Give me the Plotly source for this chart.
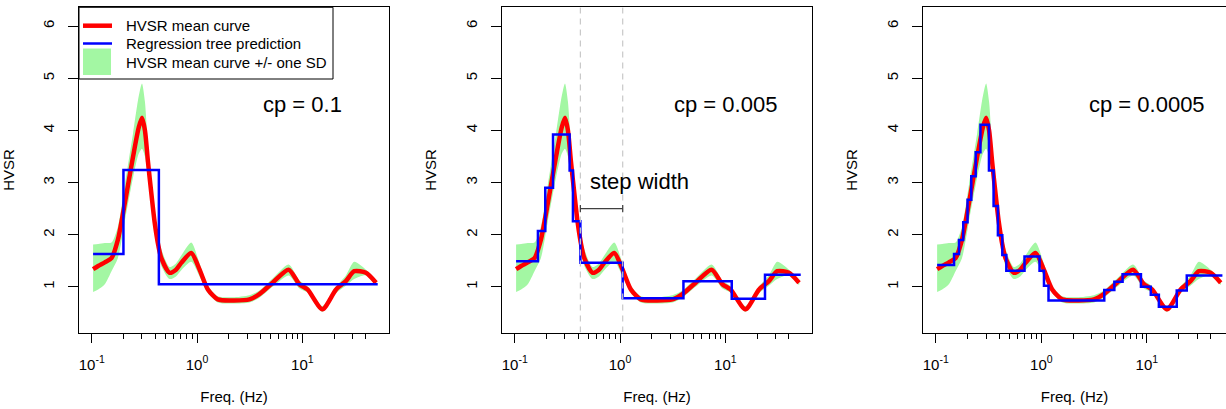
import math
import plotly.graph_objects as go

# ---------------- data ----------------
freq = [0.103, 0.115, 0.133, 0.154, 0.177, 0.206, 0.247, 0.279, 0.300, 0.320,
        0.342, 0.370, 0.395, 0.430, 0.458, 0.548, 0.631, 0.708, 0.881, 1.057,
        1.268, 1.574, 2.18, 3.15, 3.91, 5.22, 7.41, 9.38, 11.2, 15.5,
        20.9, 25.9, 31.1, 40.2, 50.1]
hvsr_mean = [1.34, 1.40, 1.47, 1.55, 1.90, 2.60, 3.50, 4.05, 4.24, 4.00,
             3.40, 2.75, 2.25, 1.78, 1.55, 1.27, 1.33, 1.46, 1.65, 1.33,
             0.95, 0.76, 0.74, 0.76, 0.86, 1.08, 1.33, 1.05, 0.95, 0.57,
             0.95, 1.11, 1.30, 1.27, 1.08]
sd_upper = [1.81, 1.82, 1.84, 1.85, 2.15, 2.95, 3.95, 4.65, 4.90, 4.55,
            3.70, 2.95, 2.42, 1.95, 1.72, 1.38, 1.45, 1.60, 1.85, 1.45,
            1.02, 0.82, 0.80, 0.84, 0.93, 1.16, 1.43, 1.12, 1.01, 0.63,
            1.01, 1.22, 1.48, 1.33, 1.12]
sd_lower = [0.90, 0.95, 1.05, 1.30, 1.55, 2.25, 3.10, 3.55, 3.65, 3.50,
            3.10, 2.55, 2.08, 1.62, 1.40, 1.15, 1.20, 1.32, 1.48, 1.20,
            0.88, 0.70, 0.68, 0.70, 0.79, 1.00, 1.22, 0.97, 0.89, 0.52,
            0.88, 1.02, 1.15, 1.22, 1.04]

freq_end = 52.0

# regression tree predictions: step start frequencies and step values
tree1_freq = [0.103, 0.200, 0.434]
tree1_val = [1.63, 3.24, 1.05]

tree2_freq = [0.103, 0.166, 0.195, 0.231, 0.332, 0.357, 0.420, 1.06, 4.0, 11.5, 23.8]
tree2_val = [1.49, 2.07, 2.90, 3.92, 3.23, 2.26, 1.46, 0.78, 1.11, 0.77, 1.23]

tree3_freq = [0.103, 0.149, 0.166, 0.182, 0.200, 0.217, 0.239, 0.265, 0.319, 0.353,
              0.388, 0.427, 0.466, 0.693, 0.962, 1.06, 1.17, 3.95, 4.92, 5.89,
              8.79, 10.9, 13.0, 19.2, 23.9]
tree3_val = [1.42, 1.63, 1.90, 2.24, 2.67, 3.12, 3.58, 4.11, 3.23, 2.55,
             1.99, 1.61, 1.31, 1.58, 1.31, 1.02, 0.74, 0.94, 1.10, 1.24,
             1.00, 0.85, 0.62, 0.93, 1.22]

cp_labels = ["cp = 0.1", "cp = 0.005", "cp = 0.0005"]
legend_labels = ["HVSR mean curve", "Regression tree prediction",
                 "HVSR mean curve +/- one SD"]
x_tickvals = [0.1, 1, 10]
x_ticktext = ["10<sup>-1</sup>", "10<sup>0</sup>", "10<sup>1</sup>"]
x_minor = [0.2, 0.3, 0.4, 0.5, 0.6, 0.7, 0.8, 0.9,
           2, 3, 4, 5, 6, 7, 8, 9, 20, 30, 40]
y_tickvals = [1, 2, 3, 4, 5, 6]

# ---------------- styling / layout ----------------
W, H = 1226, 409
FONT = "Liberation Sans, Arial, sans-serif"
GREEN = "#a3f7a3"
RED = "#ff0000"
BLUE = "#0000ff"

x_domains = [[79 / W, 389 / W], [502 / W, 812 / W], [923 / W, 1.0]]
x_ranges = [[-1.121, 1.823], [-1.121, 1.823], [-1.121, 1.750]]
y_domain = [(H - 332.5) / H, (H - 7.3) / H]
y_range = [0.125, 6.36]

trees = [(tree1_freq, tree1_val), (tree2_freq, tree2_val), (tree3_freq, tree3_val)]

fig = go.Figure()

for i in range(3):
    xa = "x" if i == 0 else f"x{i+1}"
    ya = "y" if i == 0 else f"y{i+1}"
    # SD band
    fig.add_trace(go.Scatter(
        x=freq + freq[::-1], y=sd_upper + sd_lower[::-1],
        fill="toself", fillcolor=GREEN, mode="lines",
        line=dict(width=0, color=GREEN, shape="spline", smoothing=0.7),
        name=legend_labels[2], showlegend=False,
        xaxis=xa, yaxis=ya, hoverinfo="skip"))
    # mean curve
    fig.add_trace(go.Scatter(
        x=freq, y=hvsr_mean, mode="lines",
        line=dict(width=4.5, color=RED, shape="spline", smoothing=0.7),
        name=legend_labels[0], showlegend=False, xaxis=xa, yaxis=ya))
    # regression tree
    tf, tv = trees[i]
    fig.add_trace(go.Scatter(
        x=tf + [freq_end], y=tv + [tv[-1]], mode="lines",
        line=dict(width=2.5, color=BLUE, shape="hv"),
        name=legend_labels[1], showlegend=False, xaxis=xa, yaxis=ya))

# step-width helper marks in panel 2 (edges taken from the tree steps)
sw_left, sw_right = tree2_freq[6], tree2_freq[7]
sw_y = 2.5
for xv in (sw_left, sw_right):
    fig.add_trace(go.Scatter(
        x=[xv, xv], y=y_range, mode="lines",
        line=dict(color="#c8c8c8", width=1.2, dash="6px,5px"),
        showlegend=False, xaxis="x2", yaxis="y2", hoverinfo="skip"))
    fig.add_trace(go.Scatter(
        x=[xv, xv], y=[sw_y - 0.07, sw_y + 0.07], mode="lines",
        line=dict(color="#404040", width=1.2),
        showlegend=False, xaxis="x2", yaxis="y2", hoverinfo="skip"))
fig.add_trace(go.Scatter(
    x=[sw_left, sw_right], y=[sw_y, sw_y], mode="lines",
    line=dict(color="#404040", width=1.2),
    showlegend=False, xaxis="x2", yaxis="y2", hoverinfo="skip"))

axis_font = dict(family=FONT, size=15, color="black")

layout = dict(
    width=W, height=H,
    margin=dict(l=0, r=0, t=0, b=0),
    paper_bgcolor="white", plot_bgcolor="white",
    font=dict(family=FONT, size=15, color="black"),
    showlegend=False,
)

for i in range(3):
    xk = "xaxis" if i == 0 else f"xaxis{i+1}"
    yk = "yaxis" if i == 0 else f"yaxis{i+1}"
    ya = "y" if i == 0 else f"y{i+1}"
    xa = "x" if i == 0 else f"x{i+1}"
    layout[xk] = dict(
        type="log", domain=x_domains[i], range=x_ranges[i], anchor=ya,
        tickmode="array", tickvals=x_tickvals, ticktext=x_ticktext,
        ticks="outside", ticklen=9, tickwidth=1, tickcolor="black",
        minor=dict(tickmode="array", tickvals=x_minor, ticks="outside",
                   ticklen=5, tickwidth=1, tickcolor="black", showgrid=False),
        showline=True, linecolor="black", linewidth=1, mirror=True,
        showgrid=False, zeroline=False, automargin=False,
        tickfont=axis_font, ticklabelstandoff=9,
        title=dict(text="Freq. (Hz)", font=axis_font, standoff=19),
    )
    layout[yk] = dict(
        domain=y_domain, range=y_range, anchor=xa,
        tickmode="array", tickvals=y_tickvals, tickangle=-90,
        ticks="outside", ticklen=10, tickwidth=1, tickcolor="black",
        showline=True, linecolor="black", linewidth=1, mirror=(i < 2),
        showgrid=False, zeroline=False, automargin=False,
        tickfont=axis_font, ticklabelstandoff=8,
        title=dict(text="HVSR", font=axis_font, standoff=22),
    )

# ---- legend box (drawn in paper coordinates, like R's legend()) ----
def px(x):
    return x / W


def py(y):
    return 1 - y / H


shapes = [
    dict(type="rect", xref="paper", yref="paper",
         x0=px(79), x1=px(333), y0=py(79), y1=py(7.3),
         fillcolor="white", line=dict(color="black", width=1), layer="above"),
    dict(type="line", xref="paper", yref="paper",
         x0=px(83), x1=px(112), y0=py(25.7), y1=py(25.7),
         line=dict(color=RED, width=4.5), layer="above"),
    dict(type="line", xref="paper", yref="paper",
         x0=px(83), x1=px(112), y0=py(43.5), y1=py(43.5),
         line=dict(color=BLUE, width=2.5), layer="above"),
    dict(type="rect", xref="paper", yref="paper",
         x0=px(83), x1=px(111), y0=py(75), y1=py(48.5),
         fillcolor=GREEN, line=dict(width=0), layer="above"),
]
layout["shapes"] = shapes

fig.update_layout(**layout)

annotations = []
for k, yy in enumerate([25.7, 43.5, 62.0]):
    annotations.append(dict(
        x=px(124), y=py(yy), xref="paper", yref="paper", text=legend_labels[k],
        showarrow=False, xanchor="left", yanchor="middle",
        font=dict(family=FONT, size=15, color="black")))
for i in range(3):
    xa = "x" if i == 0 else f"x{i+1}"
    ya = "y" if i == 0 else f"y{i+1}"
    annotations.append(dict(
        x=math.log10(10), y=4.5, xref=xa, yref=ya, text=cp_labels[i],
        showarrow=False, xanchor="center", yanchor="middle",
        font=dict(family=FONT, size=22, color="black")))
annotations.append(dict(
    x=math.log10(1.53), y=3.02, xref="x2", yref="y2", text="step width",
    showarrow=False, xanchor="center", yanchor="middle",
    font=dict(family=FONT, size=22, color="black")))
fig.update_layout(annotations=annotations)

fig.write_html("out.html")
